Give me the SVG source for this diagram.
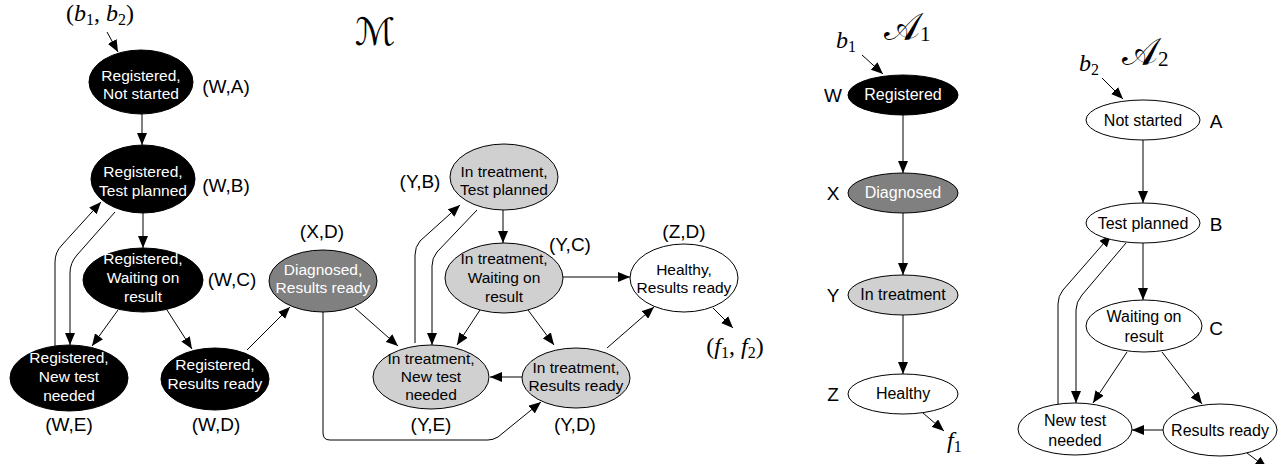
<svg xmlns="http://www.w3.org/2000/svg" width="1288" height="464" viewBox="0 0 1288 464">
<defs>
<marker id="ah" markerWidth="12" markerHeight="10" refX="12" refY="5" orient="auto" markerUnits="userSpaceOnUse"><path d="M0,0 L12,5 L0,10 z" fill="#000"/></marker>
<style>
.n{stroke:#000;stroke-width:1}
.blk{fill:#000}.dk{fill:#808080}.lt{fill:#d0d0d0}.wh{fill:#fff}
.t{font-family:"Liberation Sans",Arial,sans-serif;font-size:15.5px;text-anchor:middle;fill:#000}
.s{font-size:16px}
.tw{fill:#fff}
.lbl{font-family:"Liberation Sans",Arial,sans-serif;font-size:19px;text-anchor:middle;fill:#000}
.e{fill:none;stroke:#000;stroke-width:1;marker-end:url(#ah)}
.m{font-family:"Liberation Serif","DejaVu Serif",serif;font-size:24px;fill:#000}
.i{font-style:italic}
.cal{font-family:"DejaVu Serif","DejaVu Sans",serif;font-size:38px;fill:#000}
</style>
</defs>
<rect width="1288" height="464" fill="#fff"/>

<g id="titles">
<text class="cal" x="375" y="45" text-anchor="middle">ℳ</text>
<text class="cal" x="884" y="40" font-size="31">𝒜<tspan font-size="21" font-family="Liberation Serif" dy="1">1</tspan></text>
<text class="cal" x="1122" y="65" font-size="31">𝒜<tspan font-size="21" font-family="Liberation Serif" dy="1">2</tspan></text>
<text class="m" x="100" y="21" text-anchor="middle">(<tspan class="i">b</tspan><tspan font-size="16" dy="4">1</tspan><tspan dy="-4">, </tspan><tspan class="i">b</tspan><tspan font-size="16" dy="4">2</tspan><tspan dy="-4">)</tspan></text>
<text class="m" x="735" y="354" text-anchor="middle">(<tspan class="i">f</tspan><tspan font-size="16" dy="4">1</tspan><tspan dy="-4">, </tspan><tspan class="i">f</tspan><tspan font-size="16" dy="4">2</tspan><tspan dy="-4">)</tspan></text>
<text class="m" x="836" y="48"><tspan class="i">b</tspan><tspan font-size="16" dy="4">1</tspan></text>
<text class="m" x="947" y="448"><tspan class="i">f</tspan><tspan font-size="16" dy="4">1</tspan></text>
<text class="m" x="1079" y="71"><tspan class="i">b</tspan><tspan font-size="16" dy="4">2</tspan></text>
</g>

<g id="connectors">
<path class="e" d="M107,32 L118,52"/>
<path class="e" d="M142,114 L142,145"/>
<path class="e" d="M143,213 L143,248"/>
<path class="e" d="M55,346 L55,262 Q55,252 62,245 L101,202"/>
<path class="e" d="M115,212 L77,255 Q70,263 70,273 L70,345"/>
<path class="e" d="M118,310 L92,346"/>
<path class="e" d="M167,310 L192,349"/>
<path class="e" d="M247,350 L290,307"/>
<path class="e" d="M355,308 L398,346"/>
<path class="e" d="M323,312 L323,433 Q323,440 330,440 L488,440 Q493,440 498,437 L541,402"/>
<path class="e" d="M522,377 L490,377"/>
<path class="e" d="M415,343 L415,255 Q415,247 420,241 L460,205"/>
<path class="e" d="M477,210 L437,252 Q432,258 432,266 L432,345"/>
<path class="e" d="M503,210 L503,243"/>
<path class="e" d="M480,310 L457,345"/>
<path class="e" d="M528,310 L554,345"/>
<path class="e" d="M563,277 L630,277"/>
<path class="e" d="M607,348 L654,307"/>
<path class="e" d="M713,308 L733,328"/>
<path class="e" d="M862,55 L883,74"/>
<path class="e" d="M903,115 L903,173"/>
<path class="e" d="M903,213 L903,275"/>
<path class="e" d="M903,315 L903,374"/>
<path class="e" d="M923,413 L944,431"/>
<path class="e" d="M1102,78 L1123,99"/>
<path class="e" d="M1143,140 L1143,203"/>
<path class="e" d="M1143,243 L1143,300"/>
<path class="e" d="M1127,352 L1093,403"/>
<path class="e" d="M1162,352 L1202,404"/>
<path class="e" d="M1163,430 L1132,430"/>
<path class="e" d="M1058,404 L1058,304 Q1058,296 1063,290 L1111,235"/>
<path class="e" d="M1126,243 L1082,295 Q1076,302 1076,310 L1076,403"/>
<path class="e" d="M1247,453 L1267,468"/>
</g>

<g id="WA"><ellipse class="n blk" cx="141" cy="82" rx="52" ry="32"/><text class="t tw" x="141" y="81">Registered,</text><text class="t tw" x="141" y="99">Not started</text><text class="lbl" x="226" y="93">(W,A)</text></g>
<g id="WB"><ellipse class="n blk" cx="143" cy="179" rx="52" ry="34"/><text class="t tw" x="143" y="177">Registered,</text><text class="t tw" x="143" y="196">Test planned</text><text class="lbl" x="226" y="192">(W,B)</text></g>
<g id="WC"><ellipse class="n blk" cx="143" cy="280" rx="60" ry="32"/><text class="t tw" x="143" y="264">Registered,</text><text class="t tw" x="143" y="283">Waiting on</text><text class="t tw" x="143" y="302">result</text><text class="lbl" x="232" y="286">(W,C)</text></g>
<g id="WE"><ellipse class="n blk" cx="69" cy="378" rx="59" ry="33"/><text class="t tw" x="69" y="363">Registered,</text><text class="t tw" x="69" y="382">New test</text><text class="t tw" x="69" y="401">needed</text><text class="lbl" x="69" y="431">(W,E)</text></g>
<g id="WD"><ellipse class="n blk" cx="215" cy="379" rx="54" ry="31"/><text class="t tw" x="215" y="370">Registered,</text><text class="t tw" x="215" y="389">Results ready</text><text class="lbl" x="216" y="431">(W,D)</text></g>
<g id="XD"><ellipse class="n dk" cx="323" cy="281" rx="54" ry="31"/><text class="t tw" x="323" y="275">Diagnosed,</text><text class="t tw" x="323" y="293">Results ready</text><text class="lbl" x="322" y="238">(X,D)</text></g>
<g id="YB"><ellipse class="n lt" cx="504" cy="177" rx="54" ry="33"/><text class="t" x="504" y="177">In treatment,</text><text class="t" x="504" y="195">Test planned</text><text class="lbl" x="420" y="188">(Y,B)</text></g>
<g id="YC"><ellipse class="n lt" cx="504" cy="278" rx="59" ry="35"/><text class="t" x="504" y="264">In treatment,</text><text class="t" x="504" y="283">Waiting on</text><text class="t" x="504" y="302">result</text><text class="lbl" x="570" y="251">(Y,C)</text></g>
<g id="YE"><ellipse class="n lt" cx="431" cy="377" rx="58" ry="32"/><text class="t" x="431" y="364">In treatment,</text><text class="t" x="431" y="382">New test</text><text class="t" x="431" y="400">needed</text><text class="lbl" x="431" y="431">(Y,E)</text></g>
<g id="YD"><ellipse class="n lt" cx="576" cy="378" rx="54" ry="30"/><text class="t" x="576" y="373">In treatment,</text><text class="t" x="576" y="391">Results ready</text><text class="lbl" x="575" y="431">(Y,D)</text></g>
<g id="ZD"><ellipse class="n wh" cx="684" cy="278" rx="54" ry="34"/><text class="t" x="684" y="275">Healthy,</text><text class="t" x="684" y="293">Results ready</text><text class="lbl" x="684" y="238">(Z,D)</text></g>

<g id="A1W"><ellipse class="n blk" cx="903" cy="95" rx="55" ry="20"/><text class="t s tw" x="903" y="100">Registered</text><text class="lbl" x="833" y="102">W</text></g>
<g id="A1X"><ellipse class="n dk" cx="903" cy="193" rx="55" ry="20"/><text class="t s tw" x="903" y="198">Diagnosed</text><text class="lbl" x="833" y="200">X</text></g>
<g id="A1Y"><ellipse class="n lt" cx="903" cy="295" rx="55" ry="20"/><text class="t s" x="903" y="300">In treatment</text><text class="lbl" x="833" y="302">Y</text></g>
<g id="A1Z"><ellipse class="n wh" cx="903" cy="394" rx="55" ry="20"/><text class="t s" x="903" y="399">Healthy</text><text class="lbl" x="833" y="401">Z</text></g>

<g id="A2A"><ellipse class="n wh" cx="1143" cy="120" rx="57" ry="20"/><text class="t s" x="1143" y="126">Not started</text><text class="lbl" x="1216" y="128">A</text></g>
<g id="A2B"><ellipse class="n wh" cx="1143" cy="223" rx="57" ry="20"/><text class="t s" x="1143" y="229">Test planned</text><text class="lbl" x="1216" y="231">B</text></g>
<g id="A2C"><ellipse class="n wh" cx="1144" cy="326" rx="58" ry="26"/><text class="t s" x="1144" y="322">Waiting on</text><text class="t s" x="1144" y="342">result</text><text class="lbl" x="1216" y="335">C</text></g>
<g id="A2E"><ellipse class="n wh" cx="1075" cy="429" rx="57" ry="26"/><text class="t s" x="1075" y="426">New test</text><text class="t s" x="1075" y="446">needed</text></g>
<g id="A2D"><ellipse class="n wh" cx="1220" cy="430" rx="57" ry="26"/><text class="t s" x="1220" y="436">Results ready</text></g>
</svg>
